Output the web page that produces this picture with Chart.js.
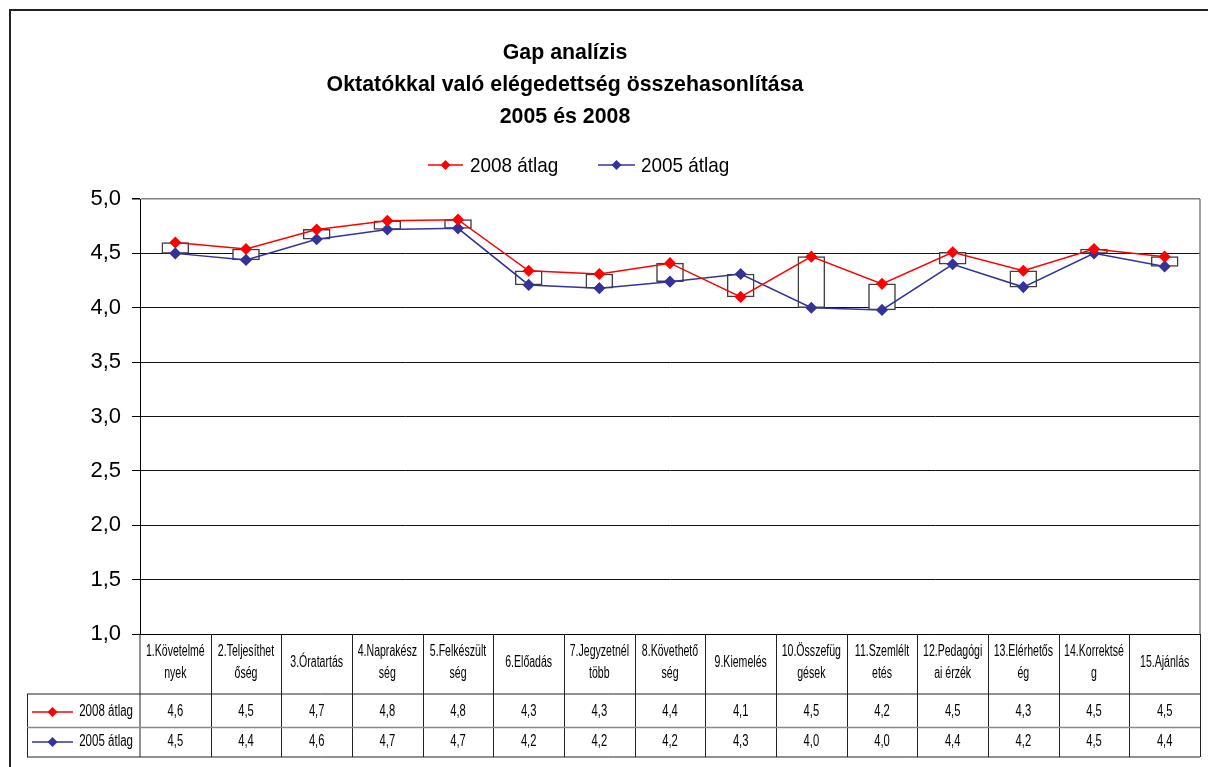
<!DOCTYPE html>
<html>
<head>
<meta charset="utf-8">
<script src="https://cdn.jsdelivr.net/npm/chart.js@4.4.1/dist/chart.umd.min.js"></script>
<style>
  body { margin: 0; background: #fff; }
  #wrap { width: 1208px; height: 767px; }
</style>
</head>
<body>
<div id="wrap"><canvas id="gapChart" width="1208" height="767"></canvas></div>
<script>
// Category labels (split into lines the way the table header wraps them)
const categories = [
  ['1.Követelmé', 'nyek'], ['2.Teljesíthet', 'őség'], ['3.Óratartás'],
  ['4.Naprakész', 'ség'], ['5.Felkészült', 'ség'], ['6.Előadás'],
  ['7.Jegyzetnél', 'több'], ['8.Követhető', 'ség'], ['9.Kiemelés'],
  ['10.Összefüg', 'gések'], ['11.Szemlélt', 'etés'], ['12.Pedagógi', 'ai érzék'],
  ['13.Elérhetős', 'ég'], ['14.Korrektsé', 'g'], ['15.Ajánlás']
];

// Series values
const avg2008 = [4.60, 4.54, 4.72, 4.80, 4.81, 4.34, 4.31, 4.41, 4.10, 4.47, 4.22, 4.51, 4.34, 4.54, 4.47];
const avg2005 = [4.50, 4.44, 4.63, 4.72, 4.73, 4.21, 4.18, 4.24, 4.31, 4.00, 3.98, 4.40, 4.19, 4.50, 4.38];

const seriesNames = ['2008 átlag', '2005 átlag'];
const titleLines = ['Gap analízis', 'Oktatókkal való elégedettség összehasonlítása', '2005 és 2008'];

const FONT = '"Liberation Sans", Arial, sans-serif';
const RED = '#ff0000';
const BLUE = '#333399';

// up/down bars between the two series
const gapBars = avg2008.map((v, i) => [Math.min(v, avg2005[i]), Math.max(v, avg2005[i])]);

const fmt = v => v.toFixed(1).replace('.', ',');

function diamond(ctx, x, y, r, color) {
  ctx.beginPath();
  ctx.moveTo(x, y - r);
  ctx.lineTo(x + r, y);
  ctx.lineTo(x, y + r);
  ctx.lineTo(x - r, y);
  ctx.closePath();
  ctx.fillStyle = color;
  ctx.fill();
}

function legendKey(ctx, x1, x2, y, color, lw) {
  ctx.strokeStyle = color;
  ctx.lineWidth = lw;
  ctx.beginPath();
  ctx.moveTo(x1, y);
  ctx.lineTo(x2, y);
  ctx.stroke();
  diamond(ctx, (x1 + x2) / 2, y, 5, color);
  ctx.fillStyle = '#000';
}

// narrow text like the reference's squeezed fonts
function squeezed(ctx, text, x, y, sx, align) {
  ctx.save();
  ctx.translate(x, y);
  ctx.scale(sx, 1);
  ctx.textAlign = align;
  ctx.fillText(text, 0, 0);
  ctx.restore();
}

const whiteBg = {
  id: 'whiteBg',
  beforeDraw(chart) {
    const ctx = chart.ctx;
    ctx.save();
    ctx.fillStyle = '#fff';
    ctx.fillRect(0, 0, chart.width, chart.height);
    ctx.restore();
  }
};

const decorations = {
  id: 'decorations',
  afterDraw(chart) {
    const ctx = chart.ctx;
    const a = chart.chartArea;
    const x = chart.scales.x;
    ctx.save();

    // outer chart frame
    ctx.strokeStyle = '#222';
    ctx.lineWidth = 2;
    ctx.beginPath();
    ctx.moveTo(10, 767);
    ctx.lineTo(10, 10);
    ctx.lineTo(1208, 10);
    ctx.stroke();

    // plot area right border
    ctx.strokeStyle = '#808080';
    ctx.lineWidth = 1.5;
    ctx.beginPath();
    ctx.moveTo(a.right, a.top);
    ctx.lineTo(a.right, a.bottom);
    ctx.stroke();

    // title
    ctx.fillStyle = '#000';
    ctx.textBaseline = 'middle';
    ctx.font = 'bold 22px ' + FONT;
    titleLines.forEach((t, i) => squeezed(ctx, t, 565, 53 + i * 32, 0.97, 'center'));

    // legend
    legendKey(ctx, 428, 463, 165, RED, 1.5);
    legendKey(ctx, 598, 635, 165, BLUE, 1.5);
    ctx.font = '21px ' + FONT;
    squeezed(ctx, seriesNames[0], 470, 166, 0.9, 'left');
    squeezed(ctx, seriesNames[1], 641, 166, 0.9, 'left');

    // data table
    const rowTop = 694, rowMid = 727.5, rowBot = 757;
    const half = (x.getPixelForValue(1) - x.getPixelForValue(0)) / 2;
    const tableRight = a.right;

    ctx.strokeStyle = '#222';
    ctx.lineWidth = 1;
    ctx.beginPath();
    ctx.moveTo(27, rowTop); ctx.lineTo(tableRight, rowTop);
    ctx.moveTo(27, rowBot); ctx.lineTo(tableRight, rowBot);
    ctx.moveTo(27.5, rowTop); ctx.lineTo(27.5, rowBot);
    ctx.moveTo(a.left, a.bottom); ctx.lineTo(a.left, rowBot);
    for (let i = 0; i < categories.length; i++) {
      const px = Math.round(x.getPixelForValue(i) + half) + 0.5;
      ctx.moveTo(px, a.bottom); ctx.lineTo(px, rowBot);
    }
    ctx.stroke();

    ctx.strokeStyle = '#8a8a8a';
    ctx.lineWidth = 1.5;
    ctx.beginPath();
    ctx.moveTo(27, rowMid); ctx.lineTo(tableRight, rowMid);
    ctx.stroke();

    ctx.fillStyle = '#000';
    ctx.font = '16px ' + FONT;
    categories.forEach((lines, i) => {
      const cx = x.getPixelForValue(i);
      if (lines.length === 1) {
        squeezed(ctx, lines[0], cx, 663, 0.66, 'center');
      } else {
        squeezed(ctx, lines[0], cx, 652, 0.66, 'center');
        squeezed(ctx, lines[1], cx, 674, 0.66, 'center');
      }
      squeezed(ctx, fmt(avg2008[i]), cx, 712, 0.7, 'center');
      squeezed(ctx, fmt(avg2005[i]), cx, 742, 0.7, 'center');
    });

    // row keys
    legendKey(ctx, 32, 73, 712, RED, 1.5);
    legendKey(ctx, 32, 73, 742, BLUE, 1.5);
    ctx.font = '16px ' + FONT;
    squeezed(ctx, seriesNames[0], 133, 712, 0.72, 'right');
    squeezed(ctx, seriesNames[1], 133, 742, 0.72, 'right');

    ctx.restore();
  }
};

new Chart(document.getElementById('gapChart'), {
  type: 'line',
  data: {
    labels: categories,
    datasets: [
      {
        label: seriesNames[0],
        data: avg2008,
        borderColor: RED,
        backgroundColor: RED,
        borderWidth: 1.5,
        pointStyle: 'rectRot',
        pointRadius: 5,
        pointBackgroundColor: RED,
        pointBorderColor: RED,
        tension: 0,
        order: 0
      },
      {
        label: seriesNames[1],
        data: avg2005,
        borderColor: BLUE,
        backgroundColor: BLUE,
        borderWidth: 1.5,
        pointStyle: 'rectRot',
        pointRadius: 5,
        pointBackgroundColor: BLUE,
        pointBorderColor: BLUE,
        tension: 0,
        order: 1
      },
      {
        type: 'bar',
        label: 'gap',
        data: gapBars,
        backgroundColor: '#ffffff',
        borderColor: '#404040',
        borderWidth: 1.5,
        borderSkipped: false,
        barThickness: 27,
        order: 2
      }
    ]
  },
  options: {
    responsive: false,
    animation: false,
    layout: { padding: { left: 10, top: 199, right: 8, bottom: 10 } },
    plugins: {
      legend: { display: false },
      title: { display: false },
      tooltip: { enabled: false }
    },
    scales: {
      x: {
        offset: true,
        grid: { display: false },
        border: { display: true, color: '#000', width: 1 },
        ticks: { display: false },
        afterFit: s => { s.height = 123; }
      },
      y: {
        min: 1,
        max: 5,
        ticks: {
          stepSize: 0.5,
          padding: 11,
          color: '#000',
          font: { family: FONT, size: 22 },
          callback: v => fmt(v)
        },
        grid: {
          color: c => (c.tick && c.tick.value === 5 ? '#808080' : '#111'),
          lineWidth: c => (c.tick && c.tick.value === 5 ? 1.5 : 1),
          tickLength: 8,
          tickColor: '#000'
        },
        border: { display: true, color: '#000', width: 1 },
        afterFit: s => { s.width = 130; }
      }
    }
  },
  plugins: [whiteBg, decorations]
});
</script>
</body>
</html>
